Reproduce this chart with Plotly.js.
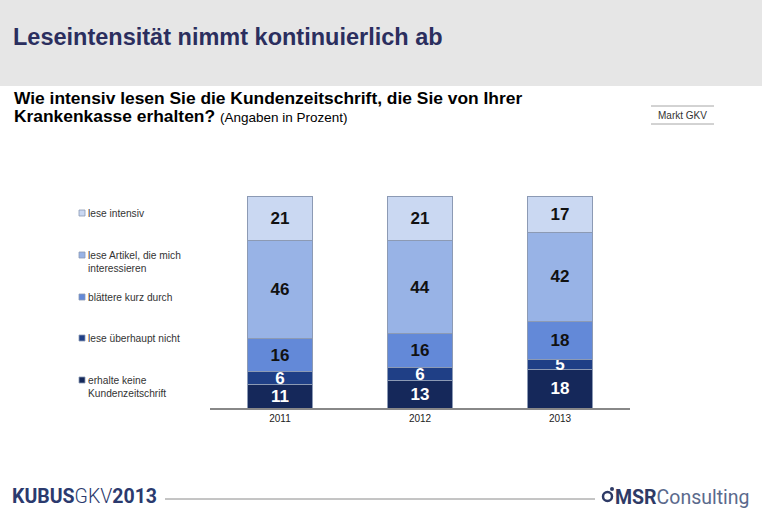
<!DOCTYPE html>
<html>
<head>
<meta charset="utf-8">
<script src="https://cdn.plot.ly/plotly-3.0.1.min.js"></script>
<style>html,body{margin:0;padding:0;background:#fff;}#chart{width:762px;height:508px;}</style>
</head>
<body>
<div id="chart"></div>
<script>
// ---- data ----
const years = ['2011', '2012', '2013'];
const seriesNames = ['erhalte keine<br>Kundenzeitschrift', 'lese überhaupt nicht', 'blättere kurz durch', 'lese Artikel, die mich<br>interessieren', 'lese intensiv'];
const erhalteKeine = [11, 13, 18];
const leseNicht = [6, 6, 5];
const blaettere = [16, 16, 18];
const leseArtikel = [46, 44, 42];
const leseIntensiv = [21, 21, 17];
const seriesValues = [erhalteKeine, leseNicht, blaettere, leseArtikel, leseIntensiv];

// ---- styles ----
const colors = ['#15285a', '#1f3f86', '#6389d8', '#98b3e6', '#cad8f2'];
const textColors = ['#ffffff', '#ffffff', '#111111', '#111111', '#111111'];
const legendY = [380, 338, 297, 255, 213]; // pixel y of each legend entry's first line

const W = 762, H = 508;
const L = 210, R = 630, T = 196, B = 408;
const px = x => (x - L) / (R - L);
const py = y => (B - y) / (B - T);

const traces = seriesValues.map((vals, i) => ({
  type: 'bar',
  name: seriesNames[i],
  x: years,
  y: vals,
  marker: {color: colors[i], line: {color: '#8c9ab4', width: 1}},
  texttemplate: '%{y}',
  textposition: 'inside',
  insidetextanchor: 'middle',
  textangle: 0,
  constraintext: 'none',
  textfont: {family: 'Liberation Sans, Arial, sans-serif', size: 17, weight: 'bold', color: textColors[i]},
  hoverinfo: 'skip',
  showlegend: false
}));

const shapes = [
  // header band
  {type: 'rect', xref: 'paper', yref: 'paper', x0: px(0), x1: px(W), y0: py(0), y1: py(86), fillcolor: '#e6e6e6', line: {width: 0}, layer: 'below'},
  // Markt GKV lines
  {type: 'line', xref: 'paper', yref: 'paper', x0: px(651), x1: px(714), y0: py(106), y1: py(106), line: {color: '#a6a6a6', width: 1}},
  {type: 'line', xref: 'paper', yref: 'paper', x0: px(651), x1: px(714), y0: py(124), y1: py(124), line: {color: '#a6a6a6', width: 1}},
  // footer line
  {type: 'line', xref: 'paper', yref: 'paper', x0: px(165), x1: px(595), y0: py(499), y1: py(499), line: {color: '#8a8a8a', width: 1}},
  // MSR logo circle
  {type: 'circle', xref: 'paper', yref: 'paper', x0: px(603), x1: px(612), y0: py(492), y1: py(501), fillcolor: '#ffffff', line: {color: '#2e3a66', width: 2.5}},
  {type: 'circle', xref: 'paper', yref: 'paper', x0: px(610), x1: px(614), y0: py(487), y1: py(491), fillcolor: '#2e3a66', line: {width: 0}}
];

// legend squares
seriesNames.forEach((n, i) => {
  shapes.push({type: 'rect', xref: 'paper', yref: 'paper', x0: px(79), x1: px(85), y0: py(legendY[i] - 3), y1: py(legendY[i] + 3),
    fillcolor: colors[i], line: {color: '#8c9ab4', width: 0.8}});
});

const annotations = [
  {xref: 'paper', yref: 'paper', x: px(12), y: py(98), xanchor: 'left', yanchor: 'middle', showarrow: false, align: 'left',
   text: '<b>Wie intensiv lesen Sie die Kundenzeitschrift, die Sie von Ihrer</b>',
   font: {family: 'Liberation Sans, Arial, sans-serif', size: 17.4, color: '#000'}},
  {xref: 'paper', yref: 'paper', x: px(12), y: py(116), xanchor: 'left', yanchor: 'middle', showarrow: false, align: 'left',
   text: '<b>Krankenkasse erhalten?</b> <span style="font-size:13.5px">(Angaben in Prozent)</span>',
   font: {family: 'Liberation Sans, Arial, sans-serif', size: 17.4, color: '#000'}},
  {xref: 'paper', yref: 'paper', x: px(682), y: py(115), xanchor: 'center', yanchor: 'middle', showarrow: false,
   text: 'Markt GKV', font: {family: 'Liberation Sans, Arial, sans-serif', size: 10, color: '#333'}},
  {xref: 'paper', yref: 'paper', x: px(10), y: py(496), xanchor: 'left', yanchor: 'middle', showarrow: false,
   text: '<b>KUBUS</b><span style="font-weight:300">GKV</span><b>2013</b>',
   font: {family: 'Roboto, sans-serif', size: 19.5, color: '#2b3a6e'}},
  {xref: 'paper', yref: 'paper', x: px(613), y: py(497), xanchor: 'left', yanchor: 'middle', showarrow: false,
   text: '<b>MSR</b><span style="color:#5b6a8c">Consulting</span>',
   font: {family: 'Roboto, sans-serif', size: 19.5, color: '#2e3a66'}}
];

seriesNames.forEach((n, i) => {
  annotations.push({xref: 'paper', yref: 'paper', x: px(86), y: py(legendY[i] - 7), xanchor: 'left', yanchor: 'top', showarrow: false, align: 'left',
    text: n, font: {family: 'Liberation Sans, Arial, sans-serif', size: 10.2, color: '#333'}});
});

const layout = {
  width: W, height: H,
  margin: {l: L, r: W - R, t: T, b: H - B, pad: 0},
  paper_bgcolor: '#ffffff', plot_bgcolor: '#ffffff',
  barmode: 'stack',
  bargap: 0.529,
  showlegend: false,
  title: {text: '<b>Leseintensität nimmt kontinuierlich ab</b>', xref: 'container', yref: 'container', x: 13 / W, xanchor: 'left', y: 1 - 37 / H, yanchor: 'middle',
    font: {family: 'Liberation Sans, Arial, sans-serif', size: 23.5, color: '#2b2e5e'}},
  xaxis: {type: 'category', showline: true, linecolor: '#888888', linewidth: 1.5, ticks: '', showgrid: false, zeroline: false,
    tickfont: {family: 'Liberation Sans, Arial, sans-serif', size: 10, color: '#222'}, fixedrange: true},
  yaxis: {range: [0, 100], visible: false, showgrid: false, zeroline: false, fixedrange: true},
  shapes: shapes,
  annotations: annotations
};

Plotly.newPlot('chart', traces, layout, {displayModeBar: false, staticPlot: true});
</script>
</body>
</html>
